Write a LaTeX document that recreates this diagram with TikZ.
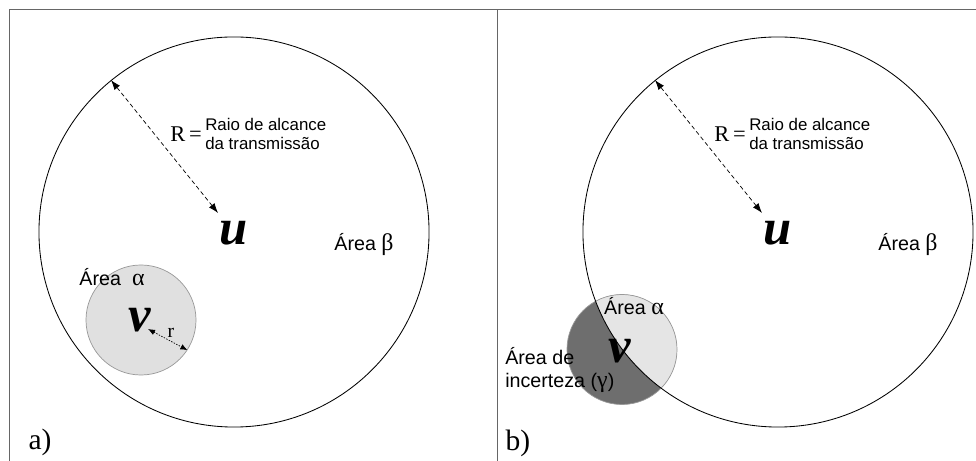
\documentclass[tikz,border=0pt]{standalone}
\usepackage{fontspec}
\setmainfont{Liberation Serif}
\setsansfont{Liberation Sans}
\usetikzlibrary{arrows.meta}
\newcommand{\gk}[1]{{\rmfamily\fontsize{17}{17}\selectfont #1}}

\begin{document}
\begin{tikzpicture}[x=0.025cm, y=0.025cm,
    big/.style = {draw, circle, inner sep=0pt, minimum size=9.75cm, line width=0.6pt},
    small/.style = {draw=black!40, circle, inner sep=0pt, minimum size=2.75cm, line width=0.5pt},
    txt/.style = {font=\sffamily\fontsize{14}{16.5}\selectfont, inner sep=0pt, align=left},
    note/.style = {font=\sffamily\fontsize{12}{13.5}\selectfont, inner sep=0pt, align=left},
    eq/.style = {font=\fontsize{16}{16}\selectfont, inner sep=0pt},
    var/.style = {font=\bfseries\itshape\fontsize{36}{36}\selectfont, inner sep=0pt},
    tag/.style = {font=\fontsize{21}{21}\selectfont, inner sep=0pt},
    frame/.style = {draw=black!60, line width=0.7pt},
    radius/.style = {{Latex[length=7pt,width=5pt]}-{Latex[length=7pt,width=5pt]}, dash pattern=on 3pt off 2pt, line width=0.5pt},
    short/.style = {{Latex[length=5pt,width=4pt]}-{Latex[length=5pt,width=4pt]}, dash pattern=on 1pt off 1pt, line width=0.5pt}]

    \useasboundingbox (0,0) rectangle (976,461);
    \draw[frame] (9,0) -- (9,452) -- (976,452);
    \draw[frame] (497,0) -- (497,452);

    \node[small, fill=black!12] (SA) at (141,141) {};
    \node[big] (BA) at (234,229) {};
    \node[var] (UA) at (234,228) {u};
    \node[var] (VA) at (140,141) {v};
    \coordinate (EA) at (218,248);
    \coordinate (CA) at (148,132);
    \draw[radius] (BA.129.3) -- (EA);
    \draw[short] (CA) -- (SA.-33);
    \node[eq] (RA) at (186,327) {R\,=};
    \node[note, anchor=west] (TA) at (205,327) {Raio de alcance\\da transmissão};
    \node[font=\fontsize{14}{14}\selectfont, inner sep=0pt] (rA) at (171,128) {r};
    \node[txt] (alA) at (112,184) {Área\ \ \gk{α}};
    \node[txt] (beA) at (364,216) {Área \gk{β}};
    \node[tag] (a) at (40,19) {a)};

    \fill[black!57] (622,111.5) circle (55);
    \begin{scope}
        \clip (778,229) circle (195);
        \fill[black!10] (622,111.5) circle (55);
    \end{scope}
    \node[small] (SB) at (622,111.5) {};
    \node[big] (BB) at (778,229) {};
    \node[var] (UB) at (778,228) {u};
    \node[var] (VB) at (620,110) {v};
    \coordinate (EB) at (762,248);
    \draw[radius] (BB.129.3) -- (EB);
    \node[eq] (RB) at (730,327) {R\,=};
    \node[note, anchor=west] (TB) at (749,327) {Raio de alcance\\da transmissão};
    \node[txt] (alB) at (634,155) {Área \gk{α}};
    \node[txt] (beB) at (908,216) {Área \gk{β}};
    \node[txt, anchor=west] (gaB) at (505,91) {Área de\\incerteza (\gk{γ})};
    \node[tag] (b) at (518,18) {b)};
\end{tikzpicture}
\end{document}
